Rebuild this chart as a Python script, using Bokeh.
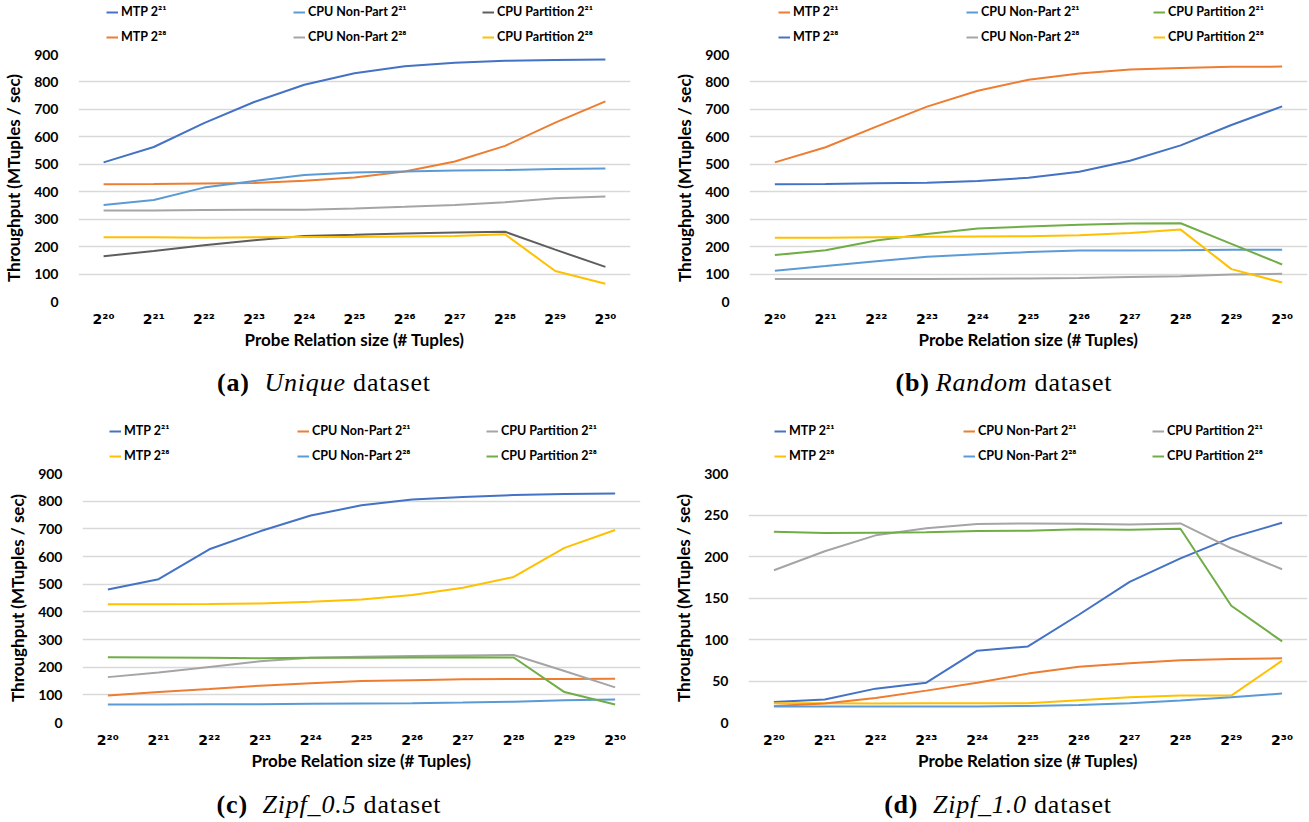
from bokeh.plotting import figure
from bokeh.models import FixedTicker, Legend, LegendItem, Div, Range1d
from bokeh.layouts import column, row
from bokeh.embed import file_html
from bokeh.resources import INLINE

# ---------------- data ----------------
x_labels = ["2²⁰", "2²¹", "2²²", "2²³", "2²⁴", "2²⁵", "2²⁶", "2²⁷", "2²⁸", "2²⁹", "2³⁰"]
series_names = ["MTP 2²¹", "MTP 2²⁸", "CPU Non-Part 2²¹", "CPU Non-Part 2²⁸",
                "CPU Partition 2²¹", "CPU Partition 2²⁸"]

# (a) Unique dataset
unique_mtp_21 = [507, 563, 650, 727, 790, 832, 857, 870, 877, 880, 882]
unique_mtp_28 = [427, 428, 430, 432, 440, 452, 474, 510, 567, 652, 729]
unique_np_21 = [352, 370, 415, 439, 461, 470, 474, 477, 479, 483, 485]
unique_np_28 = [332, 332, 333, 334, 334, 339, 345, 352, 362, 376, 383]
unique_p_21 = [165, 184, 205, 223, 239, 243, 248, 251, 254, 189, 126]
unique_p_28 = [234, 234, 232, 234, 235, 235, 237, 239, 245, 111, 65]

# (b) Random dataset
random_mtp_21 = [507, 562, 637, 710, 768, 808, 831, 845, 851, 855, 856]
random_mtp_28 = [427, 428, 431, 433, 439, 451, 473, 513, 569, 643, 711]
random_np_21 = [112, 129, 147, 163, 172, 180, 186, 186, 187, 189, 189]
random_np_28 = [82, 82, 82, 82, 83, 84, 86, 89, 92, 98, 101]
random_p_21 = [169, 187, 222, 246, 266, 273, 280, 284, 285, 210, 135]
random_p_28 = [232, 232, 234, 236, 237, 238, 241, 250, 262, 118, 69]

# (c) Zipf_0.5 dataset
zipf05_mtp_21 = [481, 518, 626, 691, 748, 785, 806, 815, 822, 826, 828]
zipf05_mtp_28 = [427, 427, 428, 430, 436, 445, 461, 487, 526, 631, 696]
zipf05_np_21 = [98, 110, 121, 133, 142, 150, 153, 156, 157, 157, 158]
zipf05_np_28 = [65, 65, 66, 66, 68, 69, 70, 72, 75, 80, 83]
zipf05_p_21 = [164, 181, 201, 221, 234, 238, 240, 242, 244, 186, 127]
zipf05_p_28 = [236, 235, 234, 232, 234, 234, 235, 236, 235, 110, 65]

# (d) Zipf_1.0 dataset
zipf10_mtp_21 = [24.8, 27.6, 40.8, 48, 86.5, 91.7, 129.8, 169.4, 197.8, 222.7, 240.7]
zipf10_mtp_28 = [23.2, 23.2, 22.8, 23.2, 23.2, 23.2, 26.8, 30.4, 32.4, 32.4, 74.5]
zipf10_np_21 = [20, 23, 29.6, 38.4, 48, 58.9, 67.3, 71.3, 74.9, 76.5, 77.3]
zipf10_np_28 = [19.2, 19.2, 19.2, 19.2, 19.2, 20, 21.2, 23.2, 26.4, 30.4, 34.8]
zipf10_p_21 = [183.4, 206.3, 225.5, 233.9, 239.1, 239.9, 239.5, 238.7, 239.9, 209.9, 184.6]
zipf10_p_28 = [229.9, 228.3, 228.7, 229.1, 230.7, 231.1, 232.7, 232.3, 233.5, 140.6, 97.7]

y_ticks_900 = [0, 100, 200, 300, 400, 500, 600, 700, 800, 900]
y_ticks_300 = [0, 50, 100, 150, 200, 250, 300]

BLUE, ORANGE, GRAY, YELLOW, LBLUE, GREEN, DGRAY = (
    "#4472C4", "#ED7D31", "#A5A5A5", "#FFC000", "#5B9BD5", "#70AD47", "#5E5E5E")

FONT = "Lato"
TICK_FONT = "DejaVu Sans"
LEG_H = 44


def make_legend_fig(series, colors, width, col_x):
    xs = list(range(len(x_labels)))
    lf = figure(width=width, height=LEG_H, output_backend="svg", toolbar_location=None,
                x_axis_location=None, y_axis_location=None,
                x_range=Range1d(-0.5, len(x_labels) - 0.5), y_range=Range1d(-3000, -2000),
                min_border=0)
    lf.outline_line_color = None
    lf.grid.visible = False
    rends = []
    for vals, col in zip(series, colors):
        rends.append(lf.line(xs, vals, line_color=col, line_width=2))
    for c in range(3):
        items = [LegendItem(label=series_names[2 * c + k], renderers=[rends[2 * c + k]])
                 for k in range(2)]
        leg = Legend(items=items, location=(col_x[c], 0),
                     orientation="vertical", padding=0, margin=0, spacing=10,
                     glyph_width=12, glyph_height=12, label_height=12,
                     label_standoff=3,
                     border_line_color=None, background_fill_alpha=0,
                     label_text_font=FONT, label_text_font_style="bold",
                     label_text_font_size="12.5px", label_text_color="#000000")
        lf.add_layout(leg)
    return lf


def make_panel(series, colors, yticks, width, height, bl, br, bt, bb):
    xs = list(range(len(x_labels)))
    p = figure(width=width, height=height, output_backend="svg", toolbar_location=None,
               x_range=Range1d(-0.5, len(x_labels) - 0.5),
               y_range=Range1d(yticks[0], yticks[-1]),
               min_border_left=bl, min_border_right=br, min_border_top=bt, min_border_bottom=bb)
    p.outline_line_color = None
    p.xgrid.visible = False
    p.ygrid.grid_line_color = "#D9D9D9"
    p.ygrid.grid_line_width = 1.3
    p.ygrid.ticker = FixedTicker(ticks=yticks)
    p.yaxis.ticker = FixedTicker(ticks=yticks)
    p.xaxis.ticker = FixedTicker(ticks=xs)
    p.xaxis.major_label_overrides = {i: lab for i, lab in enumerate(x_labels)}
    for ax in (p.xaxis, p.yaxis):
        ax.axis_line_color = None
        ax.major_tick_line_color = None
        ax.minor_tick_line_color = None
        ax.major_label_text_font = FONT
        ax.major_label_text_font_style = "bold"
        ax.major_label_text_font_size = "14px"
        ax.major_label_text_color = "#000000"
        ax.axis_label_text_font = FONT
        ax.axis_label_text_font_style = "bold"
        ax.axis_label_text_font_size = "17px"
        ax.axis_label_text_color = "#000000"
    p.xaxis.major_label_text_font = TICK_FONT
    p.xaxis.major_label_text_font_size = "14px"
    p.yaxis.axis_label = "Throughput (MTuples / sec)"
    p.xaxis.axis_label = "Probe Relation size (# Tuples)"
    p.yaxis.major_label_standoff = 14
    p.yaxis.axis_label_standoff = 7
    p.xaxis.major_label_standoff = 3
    p.xaxis.axis_label_standoff = -1
    for vals, col in zip(series, colors):
        p.line(xs, vals, line_color=col, line_width=2)
    return p


def caption(label, name, width, height, pad_top, ml, w, gap):
    html = (f'<div style="display:block; width:{w}px; font-family:\'Liberation Serif\',serif; '
            f'font-size:26px; line-height:26px; letter-spacing:0.8px; '
            f'text-align:center; padding-top:{pad_top}px; margin-left:{ml}px; '
            f'white-space:nowrap; color:#000;">'
            f'<b>({label})</b>{gap}<i>{name}</i> dataset</div>')
    return Div(text=html, width=width, height=height, margin=0)


series_a = [unique_mtp_21, unique_mtp_28, unique_np_21, unique_np_28, unique_p_21, unique_p_28]
colors_a = [BLUE, ORANGE, LBLUE, GRAY, DGRAY, YELLOW]
series_b = [random_mtp_21, random_mtp_28, random_np_21, random_np_28, random_p_21, random_p_28]
colors_b = [ORANGE, BLUE, LBLUE, GRAY, GREEN, YELLOW]
series_c = [zipf05_mtp_21, zipf05_mtp_28, zipf05_np_21, zipf05_np_28, zipf05_p_21, zipf05_p_28]
colors_c = [BLUE, YELLOW, ORANGE, LBLUE, GRAY, GREEN]
series_d = [zipf10_mtp_21, zipf10_mtp_28, zipf10_np_21, zipf10_np_28, zipf10_p_21, zipf10_p_28]
colors_d = colors_c

# legend column offsets are relative to the (aligned) plot frame's left edge
la = make_legend_fig(series_a, colors_a, 655, [28, 215, 404])
lb = make_legend_fig(series_b, colors_b, 653, [29, 217, 404])
lc = make_legend_fig(series_c, colors_c, 655, [27, 215, 404])
ld = make_legend_fig(series_d, colors_d, 653, [26, 215, 404])

pa = make_panel(series_a, colors_a, y_ticks_900, 655, 323, 72, 25, 10, 66)
pb = make_panel(series_b, colors_b, y_ticks_900, 653, 323, 94, 1, 10, 66)
pc = make_panel(series_c, colors_c, y_ticks_900, 655, 325, 82, 15, 10, 66)
pd_ = make_panel(series_d, colors_d, y_ticks_300, 653, 325, 93, 1, 10, 66)

ca = caption("a", "Unique", 655, 52, 3, 24, 600, "&nbsp;&nbsp;")
cb = caption("b", "Random", 653, 52, 3, 49, 600, "&thinsp;")
cc = caption("c", "Zipf_0.5", 655, 33, 4, 29, 600, "&nbsp;&nbsp;")
cd = caption("d", "Zipf_1.0", 653, 33, 4, 43, 600, "&nbsp;&nbsp;")

layout = column(row(column(la, pa, ca), column(lb, pb, cb)),
                row(column(lc, pc, cc), column(ld, pd_, cd)))

open("out.html", "w").write(file_html(layout, INLINE))
